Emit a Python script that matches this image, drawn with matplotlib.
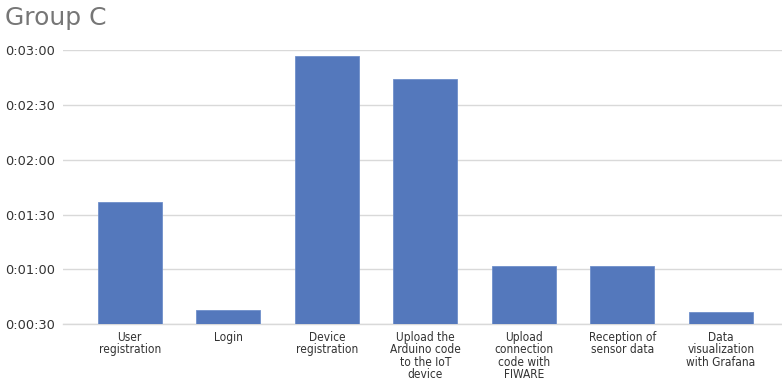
import matplotlib
matplotlib.use("Agg")
import matplotlib.pyplot as plt
from matplotlib.ticker import FuncFormatter, MultipleLocator

# Mean task durations (seconds) for Group C
tasks = [
    "User\nregistration",
    "Login",
    "Device\nregistration",
    "Upload the\nArduino code\nto the IoT\ndevice",
    "Upload\nconnection\ncode with\nFIWARE",
    "Reception of\nsensor data",
    "Data\nvisualization\nwith Grafana",
]
durations_s = [97, 38, 177, 164, 62, 62, 37]

title = "Group C"
bar_color = "#5478BC"
grid_color = "#D9D9D9"
text_color = "#333333"


def hms(v, _pos=None):
    v = int(round(v))
    h, rem = divmod(v, 3600)
    m, s = divmod(rem, 60)
    return f"{h}:{m:02d}:{s:02d}"


fig = plt.figure(figsize=(7.82, 3.82), dpi=100)
ax = fig.add_axes([0.0806, 0.151, 0.9194, 0.718])

x = range(len(tasks))
ax.bar(x, durations_s, width=0.65, bottom=0, color=bar_color,
       edgecolor="#6F8FCB", linewidth=0.6, zorder=3)

ax.set_ylim(30, 180)
ax.set_xlim(-0.677, 6.619)
ax.yaxis.set_major_locator(MultipleLocator(30))
ax.yaxis.set_major_formatter(FuncFormatter(hms))
ax.grid(axis="y", color=grid_color, linewidth=1.0, zorder=0)
ax.set_axisbelow(True)

for side in ("top", "right", "left"):
    ax.spines[side].set_visible(False)
ax.spines["bottom"].set_color(grid_color)
ax.spines["bottom"].set_linewidth(1.0)

ax.set_xticks(list(x))
ax.set_xticklabels(tasks, fontsize=8.6, color=text_color, linespacing=0.92,
                   fontstretch="condensed")
ax.tick_params(axis="x", length=0, pad=5)
ax.tick_params(axis="y", length=0, pad=6, labelsize=9.3, labelcolor=text_color)

fig.text(0.006, 0.953, title, fontsize=18, color="#767676",
         ha="left", va="center")

fig.savefig("out.png", dpi=100)
